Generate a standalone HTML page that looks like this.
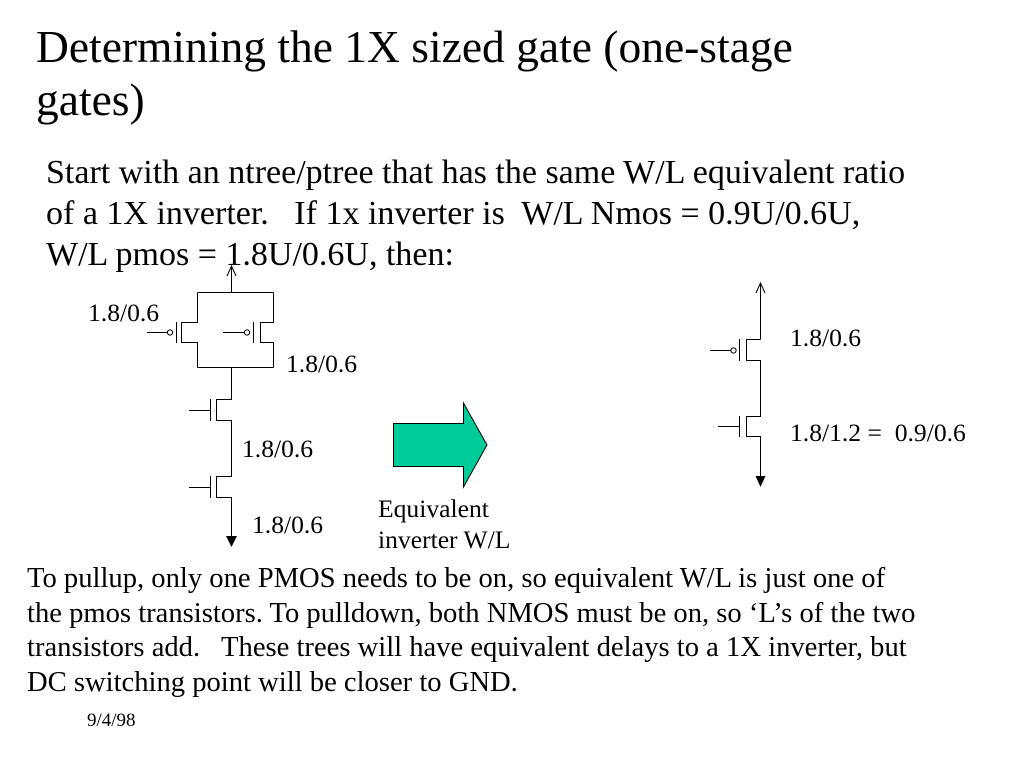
<!DOCTYPE html>
<html>
<head>
<meta charset="utf-8">
<style>
  html, body { margin:0; padding:0; background:#fff; }
  body { width:1024px; height:768px; position:relative; overflow:hidden;
         font-family:"Liberation Serif","Times New Roman",serif; color:#000; }
  .t { position:absolute; white-space:pre; }
  .title { font-size:45.5px; line-height:53px; left:36px; top:20px; }
  .body { font-size:34px; line-height:41px; left:46px; top:152px; }
  .para { font-size:28.6px; line-height:34.7px; left:27px; top:562px; }
  .lbl { font-size:25.6px; line-height:26px; }
  .date { font-size:19px; line-height:20px; left:87px; top:711px; }
  svg { position:absolute; left:0; top:0; }
</style>
</head>
<body>
<svg width="1024" height="768" viewBox="0 0 1024 768">
  <g fill="none" stroke="#000" stroke-width="1">
    <!-- Left circuit -->
    <line x1="231.5" y1="266" x2="231.5" y2="292.5"/>
    <polyline points="227,276 231.5,266 236,276"/>
    <line x1="197.5" y1="292.5" x2="273.5" y2="292.5"/>
    <path d="M197.5,292.5 V322.5 H181.5 V342.5 H197.5 V367.5"/>
    <path d="M273.5,292.5 V322.5 H260.5 V342.5 H273.5 V367.5"/>
    <line x1="197.5" y1="367.5" x2="273.5" y2="367.5"/>
    <line x1="176.5" y1="322" x2="176.5" y2="343"/>
    <line x1="253.5" y1="322" x2="253.5" y2="343"/>
    <circle cx="170" cy="332.5" r="2.6"/>
    <circle cx="247" cy="332.5" r="2.6"/>
    <line x1="147" y1="332.5" x2="167.4" y2="332.5"/>
    <line x1="223" y1="332.5" x2="244.4" y2="332.5"/>
    <path d="M231.5,367.5 V399.5 H216.5 V420.5 H231.5 V476.5 H216.5 V497.5 H231.5 V537"/>
    <line x1="210.5" y1="399" x2="210.5" y2="421"/>
    <line x1="210.5" y1="476" x2="210.5" y2="498"/>
    <line x1="189" y1="410.5" x2="210.5" y2="410.5"/>
    <line x1="189" y1="487.5" x2="210.5" y2="487.5"/>
    <!-- Right circuit -->
    <line x1="760.5" y1="283" x2="760.5" y2="339.5"/>
    <polyline points="756,293 760.5,283 765,293"/>
    <path d="M760.5,339.5 H746.5 V360.5 H760.5 V416.5 H746.5 V436.5 H760.5 V477"/>
    <line x1="739.5" y1="339" x2="739.5" y2="361"/>
    <line x1="739.5" y1="416" x2="739.5" y2="437"/>
    <circle cx="733.5" cy="350.5" r="2.6"/>
    <line x1="710" y1="350.5" x2="730.9" y2="350.5"/>
    <line x1="718" y1="426.5" x2="739.5" y2="426.5"/>
  </g>
  <polygon points="226,536 237,536 231.5,547" fill="#000"/>
  <polygon points="755.5,476 765.5,476 760.5,487" fill="#000"/>
  <!-- Green arrow -->
  <polygon points="393.5,423.5 463.5,423.5 463.5,403 487,445 463.5,487 463.5,466.5 393.5,466.5"
           fill="#00CC99" stroke="#000" stroke-width="1"/>
</svg>

<div class="t title">Determining the 1X sized gate (one-stage
gates)</div>

<div class="t body">Start with an ntree/ptree that has the same W/L equivalent ratio
of a 1X inverter.   If 1x inverter is  W/L Nmos = 0.9U/0.6U,
W/L pmos = 1.8U/0.6U, then:</div>

<div class="t lbl" style="left:88px; top:300px;">1.8/0.6</div>
<div class="t lbl" style="left:286px; top:351px;">1.8/0.6</div>
<div class="t lbl" style="left:242px; top:436px;">1.8/0.6</div>
<div class="t lbl" style="left:252px; top:512px;">1.8/0.6</div>

<div class="t lbl" style="left:378px; top:493px; line-height:31px;">Equivalent
inverter W/L</div>

<div class="t lbl" style="left:790px; top:325px;">1.8/0.6</div>
<div class="t lbl" style="left:790px; top:420px;">1.8/1.2 =  0.9/0.6</div>

<div class="t para">To pullup, only one PMOS needs to be on, so equivalent W/L is just one of
the pmos transistors. To pulldown, both NMOS must be on, so ‘L’s of the two
transistors add.   These trees will have equivalent delays to a 1X inverter, but
DC switching point will be closer to GND.</div>

<div class="t date">9/4/98</div>
</body>
</html>
